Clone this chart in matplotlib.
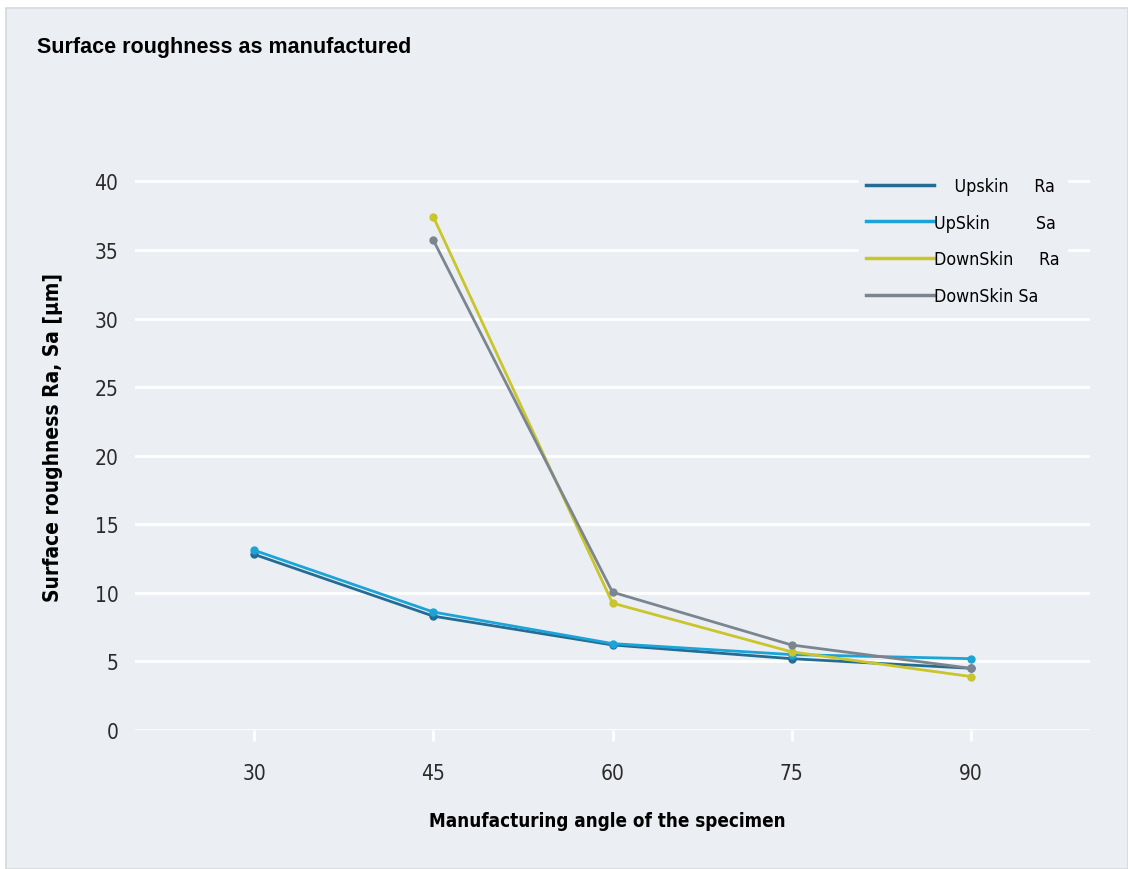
import matplotlib
matplotlib.use('Agg')
import matplotlib.pyplot as plt
from matplotlib.patches import Rectangle

# Data
angles = [30, 45, 60, 75, 90]
upskin_ra = [12.8, 8.3, 6.2, 5.2, 4.5]
upskin_sa = [13.1, 8.6, 6.3, 5.5, 5.2]
downskin_angles = [45, 60, 75, 90]
downskin_ra = [37.4, 9.25, 5.7, 3.9]
downskin_sa = [35.7, 10.05, 6.2, 4.5]

labels = ['    Upskin     Ra', 'UpSkin         Sa', 'DownSkin     Ra',
          'DownSkin Sa']
colors = ['#236c93', '#1ca3d8', '#c9c52b', '#7b8590']
y_ticks = [0, 5, 10, 15, 20, 25, 30, 35, 40]

bg = '#ebeff3'
cond = dict(family='DejaVu Sans', stretch='condensed')

fig = plt.figure(figsize=(11.28, 8.70), dpi=100)
fig.patch.set_facecolor('white')
fig.patches.append(Rectangle((6 / 1128, 0), 1 - 6 / 1128, 1 - 9 / 870,
                             transform=fig.transFigure, facecolor=bg,
                             edgecolor='#d6d9dc', lw=1.2, zorder=-10))

ax = fig.add_axes([135 / 1128, 1 - 731 / 870, (1090 - 135) / 1128,
                   (731 - 155) / 870])
ax.set_facecolor(bg)
ax.set_xlim(20, 100)
ax.set_ylim(0, 42)

series = [
    (angles, upskin_ra),
    (angles, upskin_sa),
    (downskin_angles, downskin_ra),
    (downskin_angles, downskin_sa),
]
for (x, y), c, lab in zip(series, colors, labels):
    ax.plot(x, y, '-', color=c, lw=2, marker='o', ms=5, label=lab)

ax.set_yticks(y_ticks)
ax.set_xticks(angles)
ax.grid(axis='y', color='white', lw=2)
ax.set_axisbelow(True)
for s in ax.spines.values():
    s.set_visible(False)
ax.tick_params(axis='y', length=0, pad=12)
ax.tick_params(axis='x', length=8, width=2, color='white', pad=16)
for t in ax.get_xticklabels() + ax.get_yticklabels():
    t.set_fontproperties(dict(cond, size=15))
    t.set_color('#2a2a2a')

leg = ax.legend(loc='upper left', bbox_to_anchor=(715 / 955, 1 - 7 / 576),
                frameon=True, facecolor=bg, edgecolor=bg, framealpha=1,
                handlelength=3.85, handletextpad=0.0, labelspacing=1.05,
                prop=dict(cond, size=12.8))
for h in leg.get_lines():
    h.set_marker('')
    h.set_linewidth(2.5)

fig.text(37 / 1128, 1 - 47 / 870, 'Surface roughness as manufactured',
         family=['Liberation Sans', 'DejaVu Sans'], weight='bold',
         fontsize=15.5, va='center', ha='left')
fig.text(607 / 1128, 1 - 822 / 870, 'Manufacturing angle of the specimen',
         weight='bold', fontsize=13.5, ha='center', va='center', **cond)
fig.text(53 / 1128, 1 - 437 / 870, 'Surface roughness Ra, Sa [\u00b5m]',
         weight='bold', fontsize=15, ha='center', va='center',
         rotation=90, **cond)

fig.savefig('out.png', dpi=100, facecolor=fig.get_facecolor())
